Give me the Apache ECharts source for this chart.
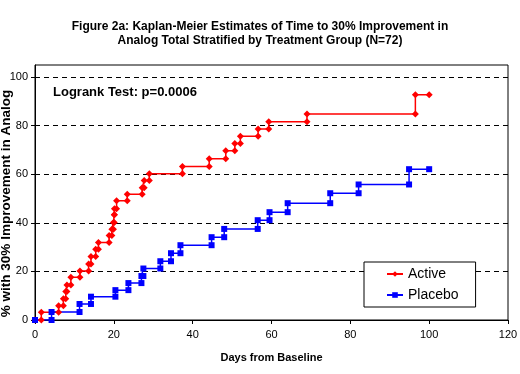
<!DOCTYPE html>
<html>
<head>
<meta charset="utf-8">
<script src="https://cdn.jsdelivr.net/npm/echarts@6/dist/echarts.min.js"></script>
<style>html,body{margin:0;padding:0;background:#fff;}#chart{width:520px;height:374px;}</style>
</head>
<body>
<div id="chart"></div>
<script>
// Kaplan-Meier event times (days) and cumulative % improved after each event
var activeDays = [1.6, 6.0, 7.2, 7.8, 8.1, 9.1, 11.4, 13.6, 14.2, 15.4, 16.1, 18.8, 19.5, 19.9, 20.1, 20.15, 20.7, 23.4, 27.2, 27.7, 29.0, 37.4, 44.2, 48.4, 50.7, 52.1, 56.6, 59.3, 69.0, 96.5];
var activePct  = [3.2, 5.9, 8.7, 11.7, 14.4, 17.6, 20.2, 23.1, 26.1, 29.1, 31.9, 34.8, 37.4, 40.1, 43.3, 45.8, 49.1, 51.8, 54.5, 57.4, 60.2, 63.2, 66.4, 69.7, 72.7, 75.7, 78.6, 81.6, 84.8, 92.7];
var activeEnd = 100;

var placeboDays = [4.2, 11.3, 14.2, 20.4, 23.7, 27.0, 27.5, 31.8, 34.5, 36.9, 44.8, 48.0, 56.5, 59.5, 64.1, 74.9, 82.1, 94.9];
var placeboPct  = [3.3, 6.6, 9.6, 12.3, 15.2, 18.1, 21.2, 24.2, 27.5, 30.8, 34.1, 37.5, 41.1, 44.4, 48.1, 52.2, 55.8, 62.1];
var placeboEnd = 100;

var xTicks = [0, 20, 40, 60, 80, 100, 120];
var yTicks = [0, 20, 40, 60, 80, 100];

function stepPoints(days, pct, endDay) {
  var pts = [[0, 0]];
  var prev = 0;
  for (var i = 0; i < days.length; i++) {
    pts.push([days[i], prev]);
    pts.push([days[i], pct[i]]);
    prev = pct[i];
  }
  pts.push([endDay, prev]);
  return pts;
}

var chart = echarts.init(document.getElementById('chart'), null, {renderer: 'canvas'});
var FONT = '"Liberation Sans", Arial, sans-serif';
chart.setOption({
  animation: false,
  backgroundColor: '#fff',
  title: {
    text: 'Figure 2a: Kaplan-Meier Estimates of Time to 30% Improvement in\nAnalog Total Stratified by Treatment Group (N=72)',
    left: 'center',
    top: 15,
    textStyle: {fontFamily: FONT, fontSize: 12, fontWeight: 'bold', color: '#000', lineHeight: 14, align: 'center'}
  },
  graphic: [{
    type: 'text',
    left: 53,
    top: 86,
    style: {text: 'Logrank Test: p=0.0006', font: 'bold 13px ' + FONT, fill: '#000'}
  }],
  grid: {left: 35, right: 12, top: 65, bottom: 54, containLabel: false, outerBoundsMode: 'none',
    show: true, borderColor: '#000', borderWidth: 1, backgroundColor: '#fff'},
  legend: {
    orient: 'vertical',
    left: 364,
    top: 262,
    padding: [5, 17, 5, 22],
    itemGap: 7,
    itemWidth: 16,
    itemHeight: 7,
    borderColor: '#000',
    borderWidth: 1,
    backgroundColor: '#fff',
    textStyle: {fontFamily: FONT, fontSize: 14, color: '#000'},
    data: ['Active', 'Placebo']
  },
  xAxis: {
    type: 'value',
    min: xTicks[0],
    max: xTicks[xTicks.length - 1],
    interval: 20,
    name: 'Days from Baseline',
    nameLocation: 'middle',
    nameGap: 32,
    nameMoveOverlap: false,
    nameTextStyle: {fontFamily: FONT, fontSize: 11, fontWeight: 'bold', color: '#000'},
    axisLine: {lineStyle: {color: '#000', width: 1}},
    axisTick: {show: true, length: 4, lineStyle: {color: '#000'}},
    axisLabel: {fontFamily: FONT, fontSize: 11, color: '#000', margin: 9},
    splitLine: {show: false}
  },
  yAxis: {
    type: 'value',
    min: 0,
    max: 105,
    interval: 20,
    name: '% with 30% Improvement in Analog',
    nameLocation: 'middle',
    nameGap: 22,
    nameMoveOverlap: false,
    nameTextStyle: {fontFamily: FONT, fontSize: 13.5, fontWeight: 'bold', color: '#000', padding: [0, 22, 0, 0]},
    axisLine: {show: true, lineStyle: {color: '#000', width: 1}},
    axisTick: {show: true, length: 4, lineStyle: {color: '#000'}},
    axisLabel: {fontFamily: FONT, fontSize: 11, color: '#000', margin: 7, showMaxLabel: false,
      formatter: function (v) { return yTicks.indexOf(v) >= 0 ? String(v) : ''; }},
    splitLine: {show: true, showMinLine: false, showMaxLine: false, lineStyle: {color: '#000', type: [5, 4], width: 1}}
  },
  series: [{
    name: 'Active',
    type: 'line',
    data: stepPoints(activeDays, activePct, activeEnd),
    symbol: 'diamond',
    symbolSize: 7,
    showAllSymbol: true,
    color: '#ff0000',
    lineStyle: {color: '#ff0000', width: 1.5},
    itemStyle: {color: '#ff0000'}
  }, {
    name: 'Placebo',
    type: 'line',
    data: stepPoints(placeboDays, placeboPct, placeboEnd),
    symbol: 'rect',
    symbolSize: 6,
    showAllSymbol: true,
    color: '#0000ff',
    lineStyle: {color: '#0000ff', width: 1.5},
    itemStyle: {color: '#0000ff'}
  }]
});
</script>
</body>
</html>
